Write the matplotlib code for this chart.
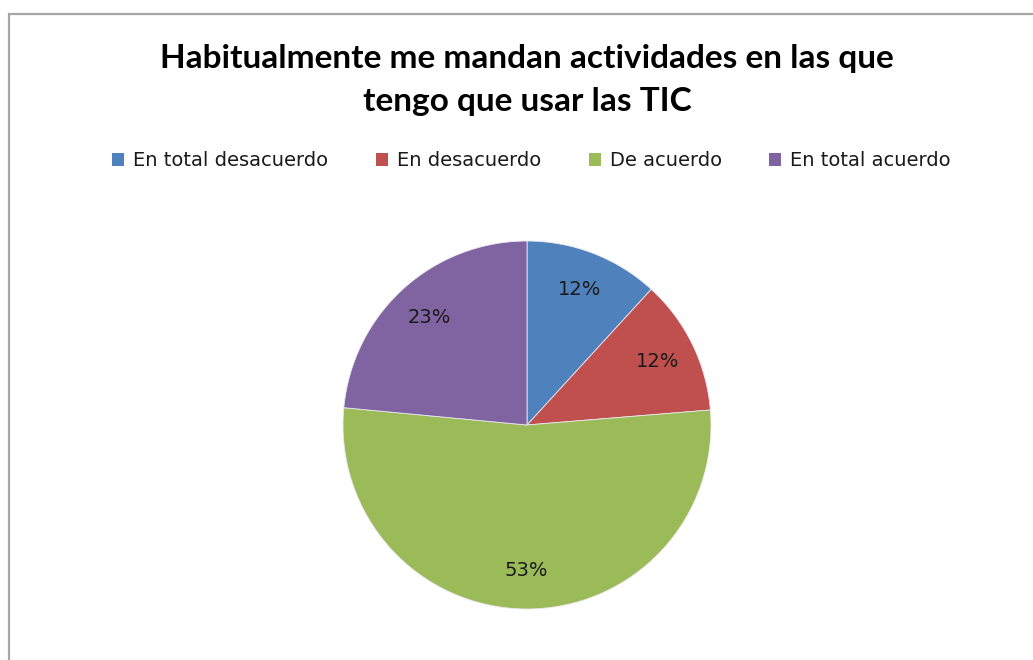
import matplotlib
matplotlib.use("Agg")
import matplotlib.pyplot as plt
from matplotlib.patches import Rectangle, Patch

categories = ["En total desacuerdo", "En desacuerdo", "De acuerdo", "En total acuerdo"]
values = [11.8, 11.9, 52.8, 23.5]
pct_labels = ["12%", "12%", "53%", "23%"]
colors = ["#4F81BD", "#C0504D", "#9BBB59", "#8064A2"]
title = "Habitualmente me mandan actividades en las que\ntengo que usar las TIC"

W, H = 1033, 660
fig = plt.figure(figsize=(W / 100, H / 100), dpi=100)
fig.patch.set_facecolor("white")

# chart border (partially cropped)
fig.patches.append(Rectangle((9 / W, -0.2), 1.5, (H - 14) / H + 0.2,
                             transform=fig.transFigure, fill=False,
                             edgecolor="#A6A6A6", linewidth=1.6))

cx, cy, r = 527, 425, 184
ax = fig.add_axes([(cx - r) / W, (H - cy - r) / H, 2 * r / W, 2 * r / H])
ax.set_xlim(-1, 1)
ax.set_ylim(-1, 1)
ax.set_aspect("equal")
ax.axis("off")

lab_iter = iter(pct_labels)
wedges, texts, autotexts = ax.pie(
    values, colors=colors, startangle=90, counterclock=False, radius=1,
    autopct=lambda p: next(lab_iter), pctdistance=0.79,
    wedgeprops=dict(edgecolor="#E8E8F0", linewidth=0.6),
    textprops=dict(fontsize=14, family="DejaVu Sans", color="#1a1a1a"))
ax.set_xlim(-1, 1)
ax.set_ylim(-1, 1)

fig.text(527 / W, 1 - 80 / H, title, ha="center", va="center",
         fontsize=24, fontweight="bold", family="Lato", linespacing=1.55,
         color="black")

handles = [Patch(facecolor=c, edgecolor="none") for c in colors]
fig.legend(handles, categories, loc="center", bbox_to_anchor=(531.5 / W, 1 - 161 / H),
           ncol=4, frameon=False, prop=dict(family="DejaVu Sans", size=14),
           handlelength=0.62, handleheight=0.62, handletextpad=0.46,
           columnspacing=2.45, labelcolor="#1a1a1a")

fig.savefig("out.png", dpi=100, facecolor="white")
